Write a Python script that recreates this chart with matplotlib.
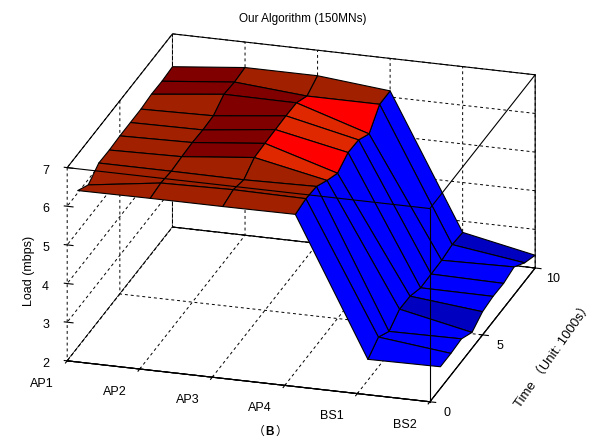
import numpy as np
import matplotlib
matplotlib.use('Agg')
import matplotlib.pyplot as plt
from matplotlib.colors import to_rgba
from matplotlib.transforms import offset_copy

plt.rcParams['font.family'] = ['Liberation Sans', 'Noto Sans CJK SC', 'DejaVu Sans']

nodes = ['AP1', 'AP2', 'AP3', 'AP4', 'BS1', 'BS2']
times = [1, 2, 3, 4, 5, 6, 7, 8, 9, 10]

# load per node, one list per node, t = 1..10
load_ap1 = [6.06, 5.86, 6.08, 6.07, 6.09, 6.09, 6.09, 6.13, 6.12, 6.15]
load_ap2 = [6.07, 6.12, 6.08, 6.11, 6.13, 6.11, 6.13, 6.34, 6.31, 6.34]
load_ap3 = [6.07, 6.16, 6.07, 6.30, 6.32, 6.33, 6.34, 6.33, 6.16, 6.34]
load_ap4 = [6.08, 6.14, 6.11, 5.92, 5.76, 5.95, 5.93, 5.74, 6.16, 6.16]
load_bs1 = [2.54, 2.77, 2.57, 2.80, 2.79, 2.66, 2.67, 2.68, 2.74, 2.71]
load_bs2 = [2.56, 2.56, 2.59, 2.41, 2.60, 2.65, 2.64, 2.72, 2.48, 2.33]

# facet colours, rows t=1-2 .. t=9-10, columns AP1-AP2 .. BS1-BS2
D, B, O, R, U, K = '#800000', '#A02000', '#E02800', '#FF0000', '#0000FF', '#0000C0'
facets = [
    [B, B, B, U, U],
    [B, B, B, U, U],
    [B, B, B, U, U],
    [B, D, O, U, K],
    [B, D, R, U, U],
    [B, D, O, U, U],
    [B, D, O, U, U],
    [D, D, R, U, U],
    [D, B, B, U, K],
]

Z = np.array([load_ap1, load_ap2, load_ap3, load_ap4, load_bs1, load_bs2]).T
X, Y = np.meshgrid(np.arange(len(nodes)), times)
face_rgba = np.array([[to_rgba(c) for c in row] for row in facets])

fig = plt.figure(figsize=(6.06, 4.44), dpi=100)
# 3d axes get forced square, so make them as wide as the figure
ax = fig.add_axes([-10 / 606, (218 - 303) / 444, 1, 606 / 444], projection='3d', computed_zorder=False)
ax.set_proj_type('ortho')
ax.view_init(elev=22.25, azim=-73.4)
ax.set_box_aspect((1, 0.974, 0.5516), zoom=0.91)

ax.plot_surface(X, Y, Z, facecolors=face_rgba, edgecolor='k', linewidth=0.8,
                rstride=1, cstride=1, shade=False, zorder=1)

ax.set_xlim(0, 5, view_margin=0)
ax.set_ylim(0, 10, view_margin=0)
ax.set_zlim(2, 7, view_margin=0)
ax.set_xticks(range(len(nodes)))
ax.set_xticklabels(nodes, fontsize=9, ha='right')
ax.set_yticks([0, 5, 10])
ax.set_zticks([2, 3, 4, 5, 6, 7])
ax.tick_params(labelsize=9, pad=0)
ax.xaxis.set_tick_params(pad=3)
ax.yaxis.set_tick_params(pad=3)
ax.zaxis.set_tick_params(pad=2)

for axis in (ax.xaxis, ax.yaxis, ax.zaxis):
    axis.set_pane_color((1, 1, 1, 1))
    axis.pane.set_edgecolor('k')
    axis.pane.set_linewidth(0.8)
    axis.line.set_linewidth(0.8)
    axis._axinfo['grid'].update(color='k', linestyle=(0, (3, 3)), linewidth=0.7)
ax.zaxis._axinfo['juggled'] = (1, 0, 2)

# front edges of the box go over the surface
ax.plot([0, 5], [0, 0], [7, 7], color='k', lw=0.8, zorder=5)
ax.plot([5, 5], [0, 10], [7, 7], color='k', lw=0.8, zorder=5)
ax.plot([5, 5], [0, 0], [2, 7], color='k', lw=0.8, zorder=5)

fig.text(303 / 606, 1 - 19 / 444, 'Our Algorithm (150MNs)', ha='center', va='center', fontsize=8.5)
fig.text(29 / 606, 1 - 271 / 444, 'Load (mbps)', rotation=90, ha='center', va='center', fontsize=9)
fig.text(553 / 606, 1 - 355 / 444, 'Time （Unit: 1000s）', rotation=55, ha='center', va='center', fontsize=9.5)
fig.text(259 / 606, 1 - 432 / 444, '（', ha='center', va='center', fontsize=8.5)
fig.text(270 / 606, 1 - 432 / 444, 'B', ha='center', va='center', fontsize=8.5, fontweight='bold')
fig.text(281 / 606, 1 - 432 / 444, '）', ha='center', va='center', fontsize=8.5)


# Axis3D resets the label transform on every draw, so the nudge has to sit in set_transform
def nudge(label, dx, dy):
    orig = label.set_transform
    label.set_transform = lambda tr: orig(offset_copy(tr, fig=fig, x=dx, y=dy, units='dots'))


for axis, dx, dy in ((ax.xaxis, -8, -1), (ax.yaxis, 0, 6), (ax.zaxis, -1, 7)):
    for tick in axis.get_major_ticks():
        nudge(tick.label1, dx, dy)

fig.savefig('out.png', dpi=100)
